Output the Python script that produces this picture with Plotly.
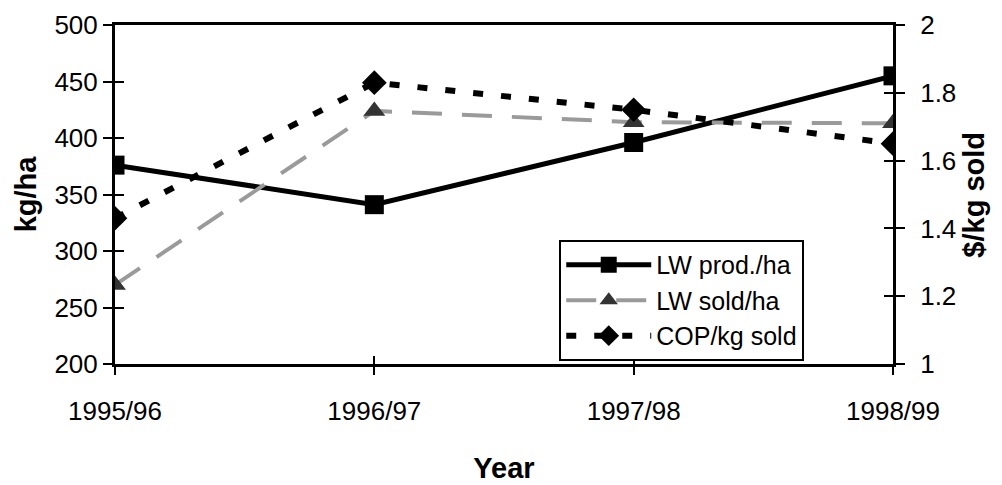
import plotly.graph_objects as go

years = ["1995/96", "1996/97", "1997/98", "1998/99"]
lw_prod = [376, 341, 396, 455]
lw_sold = [270, 424, 414, 413]
cop_kg = [1.43, 1.83, 1.75, 1.65]

left_ticks = [200, 250, 300, 350, 400, 450, 500]
right_ticks = [1, 1.2, 1.4, 1.6, 1.8, 2]
right_labels = ["1", "1.2", "1.4", "1.6", "1.8", "2"]

FONT = "Liberation Sans Narrow, Arial Narrow, Liberation Sans, Arial"
xi = list(range(len(years)))

fig = go.Figure()
fig.add_trace(go.Scatter(
    x=xi, y=lw_prod, name="LW prod./ha", mode="lines+markers",
    line=dict(color="black", width=5),
    marker=dict(symbol="square", size=19, color="black"),
    yaxis="y", xaxis="x"))
fig.add_trace(go.Scatter(
    x=xi, y=lw_sold, name="LW sold/ha", mode="lines+markers",
    line=dict(color="#9a9a9a", width=4, dash="30px,20px"),
    marker=dict(symbol="triangle-up", size=19, color="#333333"),
    yaxis="y", xaxis="x"))
fig.add_trace(go.Scatter(
    x=xi, y=cop_kg, name="COP/kg sold", mode="lines+markers",
    line=dict(color="black", width=6, dash="10px,18px"),
    marker=dict(symbol="diamond", size=19, color="black"),
    yaxis="y2", xaxis="x"))
# empty traces so the inside-tick overlay axes get drawn
for ya in ["y3", "y4"]:
    fig.add_trace(go.Scatter(x=[], y=[], yaxis=ya, xaxis="x", showlegend=False, hoverinfo="skip"))
fig.add_trace(go.Scatter(x=[], y=[], yaxis="y", xaxis="x2", showlegend=False, hoverinfo="skip"))

tickfont = dict(family=FONT, size=26, color="black")
titlefont = dict(family="Liberation Sans, Arial", size=29, color="black", weight="bold")

fig.update_layout(
    width=1002, height=485,
    margin=dict(l=115, r=109, t=25, b=121),
    paper_bgcolor="white", plot_bgcolor="white",
    showlegend=True,
    legend=dict(x=0.571, y=0.366, xanchor="left", yanchor="top",
                bordercolor="black", borderwidth=2, bgcolor="white",
                font=dict(family=FONT, size=25, color="black"),
                tracegroupgap=0, itemwidth=85),
    xaxis=dict(range=[0, 3], tickvals=xi, ticktext=years, automargin=False,
               showline=True, linecolor="black", linewidth=3, mirror=True,
               ticks="outside", ticklen=8, tickwidth=2, tickcolor="black",
               ticklabelstandoff=14,
               showgrid=False, zeroline=False, tickfont=tickfont,
               title=dict(text="Year", font=titlefont, standoff=33)),
    xaxis2=dict(range=[0, 3], tickvals=xi, overlaying="x", side="bottom",
                ticks="inside", ticklen=8, tickwidth=2, tickcolor="black",
                showticklabels=False, showline=False, showgrid=False, zeroline=False),
    yaxis=dict(range=[200, 500], tickvals=left_ticks, automargin=False,
               showline=True, linecolor="black", linewidth=3,
               ticks="outside", ticklen=9, tickwidth=2, tickcolor="black",
               showgrid=False, zeroline=False, tickfont=tickfont,
               title=dict(text="kg/ha", font=titlefont, standoff=10)),
    yaxis2=dict(range=[1, 2], tickvals=right_ticks, ticktext=right_labels,
                overlaying="y", side="right", anchor="x", automargin=False,
                showline=True, linecolor="black", linewidth=3,
                ticks="outside", ticklen=9, tickwidth=2, tickcolor="black",
                ticklabelstandoff=10,
                showgrid=False, zeroline=False, tickfont=tickfont),
    yaxis3=dict(range=[200, 500], tickvals=left_ticks, overlaying="y", side="left", anchor="x",
                ticks="inside", ticklen=9, tickwidth=2, tickcolor="black", automargin=False,
                showticklabels=False, showline=False, showgrid=False, zeroline=False),
    yaxis4=dict(range=[1, 2], tickvals=right_ticks, overlaying="y", side="right", anchor="x",
                ticks="inside", ticklen=9, tickwidth=2, tickcolor="black", automargin=False,
                showticklabels=False, showline=False, showgrid=False, zeroline=False),
    annotations=[dict(text="$/kg sold", xref="paper", yref="paper", x=1.103, y=0.5,
                      xanchor="center", yanchor="middle", textangle=-90, showarrow=False,
                      font=titlefont)],
)

fig.write_html("out.html")
